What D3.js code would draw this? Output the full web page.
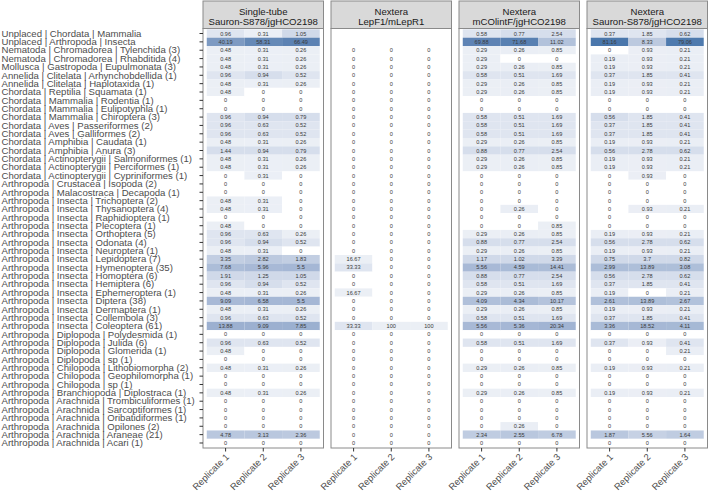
<!DOCTYPE html>
<html><head><meta charset="utf-8">
<script src="https://cdn.jsdelivr.net/npm/d3@7"></script>
<style>body{margin:0;background:#fff;}svg{display:block;font-family:"Liberation Sans",Arial,sans-serif;}</style>
</head><body>
<script>
const taxa = [
"Unplaced | Chordata | Mammalia","Unplaced | Arthropoda | Insecta","Nematoda | Chromadorea | Tylenchida (3)",
"Nematoda | Chromadorea | Rhabditida (4)","Mollusca | Gastropoda | Eupulmonata (3)","Annelida | Clitelata | Arhynchobdellida (1)",
"Annelida | Clitelata | Haplotaxida (1)","Chordata | Reptilia | Squamata (1)","Chordata | Mammalia | Rodentia (1)",
"Chordata | Mammalia | Eulipotyphla (1)","Chordata | Mammalia | Chiroptera (3)","Chordata | Aves | Passeriformes (2)",
"Chordata | Aves | Galliformes (2)","Chordata | Amphibia | Caudata (1)","Chordata | Amphibia | Anura (3)",
"Chordata | Actinopterygii | Salmoniformes (1)","Chordata | Actinopterygii | Perciformes (1)","Chordata | Actinopterygii | Cypriniformes (1)",
"Arthropoda | Crustacea | Isopoda (2)","Arthropoda | Malacostraca | Decapoda (1)","Arthropoda | Insecta | Trichoptera (2)",
"Arthropoda | Insecta | Thysanoptera (4)","Arthropoda | Insecta | Raphidioptera (1)","Arthropoda | Insecta | Plecoptera (1)",
"Arthropoda | Insecta | Orthoptera (5)","Arthropoda | Insecta | Odonata (4)","Arthropoda | Insecta | Neuroptera (1)",
"Arthropoda | Insecta | Lepidoptera (7)","Arthropoda | Insecta | Hymenoptera (35)","Arthropoda | Insecta | Homoptera (6)",
"Arthropoda | Insecta | Hemiptera (6)","Arthropoda | Insecta | Ephemeroptera (1)","Arthropoda | Insecta | Diptera (38)",
"Arthropoda | Insecta | Dermaptera (1)","Arthropoda | Insecta | Collembola (3)","Arthropoda | Insecta | Coleoptera (61)",
"Arthropoda | Diplopoda | Polydesmida (1)","Arthropoda | Diplopoda | Julida (6)","Arthropoda | Diplopoda | Glomerida (1)",
"Arthropoda | Diplopoda | sp (1)","Arthropoda | Chilopoda | Lithobiomorpha (2)","Arthropoda | Chilopoda | Geophilomorpha (1)",
"Arthropoda | Chilopoda | sp (1)","Arthropoda | Branchiopoda | Diplostraca (1)","Arthropoda | Arachnida | Trombiculiformes (1)",
"Arthropoda | Arachnida | Sarcoptiformes (1)","Arthropoda | Arachnida | Oribatidiformes (1)","Arthropoda | Arachnida | Opilones (2)",
"Arthropoda | Arachnida | Araneae (21)","Arthropoda | Arachnida | Acari (1)"];

const panelTitles = [["Single-tube","Sauron-S878/jgHCO2198"],["Nextera","LepF1/mLepR1"],["Nextera","mCOlintF/jgHCO2198"],["Nextera","Sauron-S878/jgHCO2198"]];
const replicates = ["Replicate 1","Replicate 2","Replicate 3"];

// percentages, one array per panel & replicate (row order as taxa)
const singleRep1 = [0.96,40.19,0.48,0.48,0.48,0.96,0.48,0.48,0,0,0.96,0.96,0.96,0.48,1.44,0.48,0.48,0,0,0,0.48,0.48,0,0.48,0.96,0.96,0.48,3.35,7.68,1.91,0.96,0.48,9.09,0.48,0.96,13.88,0,0.96,0.48,0,0.48,0,0,0.48,0,0,0,0,4.78,0];
const singleRep2 = [0.31,58.31,0.31,0.31,0.31,0.94,0.31,0,0,0,0.94,0.63,0.63,0.31,0.94,0.31,0.31,0.31,0,0,0.31,0.31,0,0,0.63,0.94,0.31,2.82,5.96,1.25,0.94,0.31,6.58,0.31,0.63,9.09,0,0.63,0,0,0.31,0,0,0.31,0,0,0,0,3.13,0];
const singleRep3 = [1.05,66.49,0.26,0.26,0.26,0.52,0.26,0,0,0,0.79,0.52,0.52,0.26,0.79,0.26,0.26,0,0,0,0,0,0,0,0.26,0.52,0,1.83,5.5,1.05,0.52,0.26,5.5,0.26,0.52,7.85,0,0.52,0,0,0.26,0,0,0.26,0,0,0,0,2.36,0];
const lepRep1 = [null,null,0,0,0,0,0,0,0,0,0,0,0,0,0,0,0,0,0,0,0,0,0,0,0,0,0,16.67,33.33,0,0,16.67,0,0,0,33.33,0,0,0,0,0,0,0,0,0,0,0,0,0,0];
const lepRep2 = [null,null,0,0,0,0,0,0,0,0,0,0,0,0,0,0,0,0,0,0,0,0,0,0,0,0,0,0,0,0,0,0,0,0,0,100,0,0,0,0,0,0,0,0,0,0,0,0,0,0];
const lepRep3 = [null,null,0,0,0,0,0,0,0,0,0,0,0,0,0,0,0,0,0,0,0,0,0,0,0,0,0,0,0,0,0,0,0,0,0,100,0,0,0,0,0,0,0,0,0,0,0,0,0,0];
const mcoRep1 = [0.58,69.88,0.29,0.29,0.29,0.58,0.29,0.29,0,0,0.58,0.58,0.58,0.29,0.88,0.29,0.29,0,0,0,0,0,0,0,0.29,0.88,0.29,1.17,5.56,0.88,0.58,0.29,4.09,0.29,0.58,5.56,0,0.58,0,0,0.29,0,0,0.29,0,0,0,0,2.34,0];
const mcoRep2 = [0.77,71.68,0.26,0,0.26,0.51,0.26,0.26,0,0,0.51,0.51,0.51,0.26,0.77,0.26,0.26,0,0,0,0,0.26,0,0,0.26,0.77,0.26,1.02,4.59,0.77,0.51,0.26,4.34,0.26,0.51,5.36,0,0.51,0,0,0.26,0,0,0.26,0,0,0,0.26,2.55,0];
const mcoRep3 = [2.54,11.02,0.85,0,0.85,1.69,0.85,0.85,0,0,1.69,1.69,1.69,0.85,2.54,0.85,0.85,0,0,0,0,0,0,0.85,0.85,2.54,0.85,3.39,14.41,2.54,1.69,0.85,10.17,0.85,1.69,20.34,0,1.69,0,0,0.85,0,0,0.85,0,0,0,0,6.78,0];
const sauRep1 = [0.37,81.16,0,0.19,0.19,0.37,0.19,0.19,0,0,0.56,0.37,0.37,0.19,0.56,0.19,0.19,0,0,0,0,0,0,0,0.19,0.56,0.19,0.75,2.99,0.56,0.37,0.19,2.61,0.19,0.37,3.36,0,0.37,0,0,0.19,0,0,0.19,0,0,0,0,1.87,0];
const sauRep2 = [1.85,8.33,0.93,0.93,0.93,1.85,0.93,0.93,0,0,1.85,1.85,1.85,0.93,2.78,0.93,0.93,0.93,0,0,0,0.93,0,0,0.93,2.78,0.93,3.7,13.89,2.78,1.85,0,13.89,0.93,1.85,18.52,0,0.93,0,0,0.93,0,0,0.93,0,0,0,0,5.56,0];
const sauRep3 = [0.62,79.06,0.21,0.21,0.21,0.41,0.21,0.21,0,0,0.41,0.41,0.41,0.21,0.62,0.21,0.21,0,0,0,0,0.21,0,0,0.21,0.62,0.21,0.82,3.08,0.62,0.41,0.21,2.67,0.21,0.41,4.11,0,0.41,0.21,0,0.21,0,0,0.21,0,0,0,0,1.64,0];

// estimated total reads per replicate (fill shows log read counts)
const readTotals = [[209,319,382],[6,1,1],[342,392,118],[536,108,483]];

const panelValues = [[singleRep1,singleRep2,singleRep3],[lepRep1,lepRep2,lepRep3],[mcoRep1,mcoRep2,mcoRep3],[sauRep1,sauRep2,sauRep3]];

const W = 709, H = 492;
const svg = d3.select("body").append("svg").attr("width", W).attr("height", H);

const panelLeft = 203, panelW = 120.5, panelGap = 7.5;
const stripTop = 1, stripBottom = 28.5, panelTop = 28.5, panelBottom = 448;

const y = d3.scaleBand().domain(taxa).range([panelTop, panelBottom]).paddingInner(0).paddingOuter(0.1);

const cells = [];
panelValues.forEach((reps, p) => reps.forEach((arr, r) => arr.forEach((v, i) => {
  if (v !== null) cells.push({p, r, i, v, reads: v * readTotals[p][r] / 100});
})));
const maxLog = d3.max(cells, d => Math.log10(d.reads + 1));
const color = d3.scaleLinear().domain([0, maxLog]).range(["#ffffff", "#4a77ac"]).interpolate(d3.interpolateLab);

panelTitles.forEach((title, p) => {
  const x0 = panelLeft + p * (panelW + panelGap);
  const x = d3.scaleBand().domain(replicates).range([x0, x0 + panelW]).paddingInner(0).paddingOuter(0.1);
  const g = svg.append("g");
  // strip
  g.append("rect").attr("x", x0).attr("y", stripTop).attr("width", panelW).attr("height", stripBottom - stripTop)
    .attr("fill", "#d9d9d9").attr("stroke", "#8a8a8a").attr("stroke-width", 1);
  title.forEach((t, k) => g.append("text").attr("x", x0 + panelW / 2).attr("y", 12.5 + k * 9.5)
    .attr("text-anchor", "middle").attr("dominant-baseline", "middle").attr("font-size", 9.6).attr("fill", "#1a1a1a").text(t));
  // tiles
  const pc = cells.filter(d => d.p === p);
  g.selectAll("rect.tile").data(pc).join("rect").attr("class", "tile")
    .attr("x", d => x(replicates[d.r])).attr("y", d => y(taxa[d.i]))
    .attr("width", x.bandwidth()).attr("height", y.bandwidth())
    .attr("fill", d => color(Math.log10(d.reads + 1)));
  g.selectAll("text.val").data(pc).join("text").attr("class", "val")
    .attr("x", d => x(replicates[d.r]) + x.bandwidth() / 2).attr("y", d => y(taxa[d.i]) + y.bandwidth() / 2)
    .attr("text-anchor", "middle").attr("dominant-baseline", "central").attr("font-size", 5.6).attr("fill", "#3a3a3a")
    .text(d => d.v);
  // panel border
  g.append("rect").attr("x", x0).attr("y", panelTop).attr("width", panelW).attr("height", panelBottom - panelTop)
    .attr("fill", "none").attr("stroke", "#8a8a8a").attr("stroke-width", 1);
  // x axis
  const ax = svg.append("g").attr("transform", `translate(0,${panelBottom})`).call(d3.axisBottom(x).tickSize(3.5).tickSizeOuter(0));
  ax.select(".domain").remove();
  ax.selectAll(".tick line").attr("stroke", "#333");
  ax.selectAll(".tick text").attr("font-size", 9.4).attr("fill", "#4d4d4d").attr("font-family", "Liberation Sans, Arial, sans-serif")
    .attr("text-anchor", "end").attr("y", 0).attr("dy", 0)
    .attr("transform", "translate(4,9.5) rotate(-45)");
});

// y axis
const ay = svg.append("g").attr("transform", `translate(${panelLeft},0)`).call(d3.axisLeft(y).tickSize(3.5).tickSizeOuter(0));
ay.select(".domain").remove();
ay.selectAll(".tick line").attr("stroke", "#333");
ay.selectAll(".tick text").attr("font-size", 9.6).attr("fill", "#4d4d4d").attr("font-family", "Liberation Sans, Arial, sans-serif")
  .attr("text-anchor", "start").attr("x", 1.5 - panelLeft).attr("dy", "0.34em");
</script>
</body></html>
